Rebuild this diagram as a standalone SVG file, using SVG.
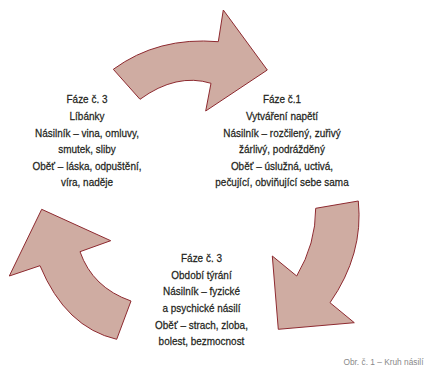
<svg xmlns="http://www.w3.org/2000/svg" width="435" height="371" viewBox="0 0 435 371">
  <style>
    .arrow { fill: #cfaca2; stroke: #8e2a30; stroke-width: 1; stroke-linejoin: miter; }
    .lbl { font-family: "Liberation Sans", Arial, sans-serif; font-size: 11.6px; fill: #231f20; stroke: #231f20; stroke-width: 0.25; text-anchor: middle; }
    .cap { font-family: "Liberation Sans", Arial, sans-serif; font-size: 9.7px; fill: #8a8a8a; text-anchor: end; }
  </style>
  <rect width="435" height="371" fill="#ffffff"/>
  <g id="connectors">
    <path id="arrow-top" class="arrow" d="M113.3,69.3 Q158.2,36.5 218.3,41.7 L223.3,10 L267.3,70 L205.7,111 L211,83.3 Q176.5,72.7 140,99.3 Z"/>
    <path id="arrow-right" class="arrow" d="M315.7,208.3 L358.3,201 Q363.8,254.1 330,302.7 L354.3,322.7 L278.3,329.3 L272.3,256 L296.7,276 Q315.8,243.8 315.7,208.3 Z"/>
    <path id="arrow-left" class="arrow" d="M41.7,209.3 L110.7,240.7 L80,251.7 Q92.5,287.6 131,301 L116.7,339.3 Q65.6,327.5 40,265.7 L9.3,276 Z"/>
  </g>
  <g id="phase-libanky" transform="translate(87,0) scale(0.86,1)">
    <text class="lbl" x="0" y="103.5">Fáze č. 3</text>
    <text class="lbl" x="0" y="120.1">Líbánky</text>
    <text class="lbl" x="0" y="136.7">Násilník – vina, omluvy,</text>
    <text class="lbl" x="0" y="153.3">smutek, sliby</text>
    <text class="lbl" x="0" y="169.9">Oběť – láska, odpuštění,</text>
    <text class="lbl" x="0" y="186.5">víra, naděje</text>
  </g>
  <g id="phase-napeti" transform="translate(282,0) scale(0.86,1)">
    <text class="lbl" x="0" y="103.5">Fáze č.1</text>
    <text class="lbl" x="0" y="120.1">Vytváření napětí</text>
    <text class="lbl" x="0" y="136.7">Násilník – rozčilený, zuřivý</text>
    <text class="lbl" x="0" y="153.3">žárlivý, podrážděný</text>
    <text class="lbl" x="0" y="169.9">Oběť – úslužná, uctivá,</text>
    <text class="lbl" x="0" y="186.5">pečující, obviňující sebe sama</text>
  </g>
  <g id="phase-tyrani" transform="translate(201.5,0) scale(0.86,1)">
    <text class="lbl" x="0" y="262">Fáze č. 3</text>
    <text class="lbl" x="0" y="278.7">Období týrání</text>
    <text class="lbl" x="0" y="295.4">Násilník – fyzické</text>
    <text class="lbl" x="0" y="312.1">a psychické násilí</text>
    <text class="lbl" x="0" y="328.8">Oběť – strach, zloba,</text>
    <text class="lbl" x="0" y="345.5">bolest, bezmocnost</text>
  </g>
  <g id="caption" transform="translate(423.5,0) scale(0.86,1)">
    <text class="cap" x="0" y="365">Obr. č. 1 – Kruh násilí</text>
  </g>
</svg>
